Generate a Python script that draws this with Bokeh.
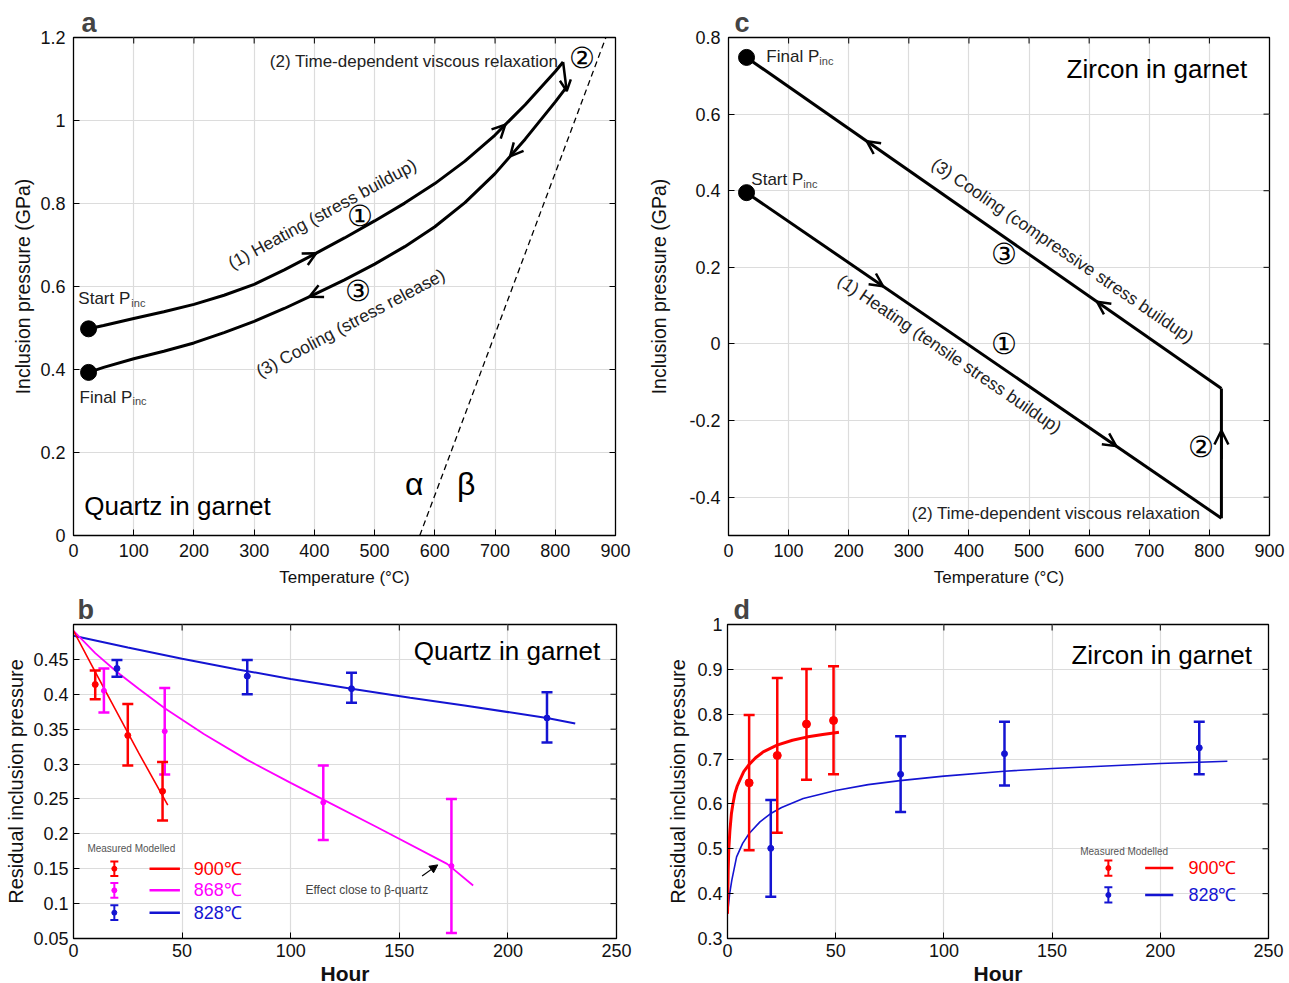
import numpy as np
from bokeh.plotting import figure
from bokeh.layouts import column, row
from bokeh.models import (ColumnDataSource, Whisker, TeeHead, Arrow, OpenHead, NormalHead,
                          Label, FixedTicker, CustomJSTickFormatter, Range1d)
from bokeh.embed import file_html
from bokeh.resources import INLINE

FONT = "Liberation Sans"
RED = "#ff0000"
MAG = "#ff00ff"
BLUE = "#1414d2"

# ---------------- Panel a: quartz in garnet, P-T path ----------------
qa_heat_T = [25, 50, 100, 150, 200, 250, 300, 350, 400, 450, 500, 550, 600, 650, 700, 750, 800, 813]
qa_heat_P = [0.498, 0.506, 0.523, 0.539, 0.557, 0.579, 0.605, 0.640, 0.678, 0.717, 0.758,
             0.801, 0.848, 0.902, 0.965, 1.038, 1.118, 1.141]
qa_cool_T = [819, 800, 750, 700, 650, 600, 550, 500, 450, 400, 350, 300, 250, 200, 150, 100, 50, 25]
qa_cool_P = [1.081, 1.045, 0.955, 0.872, 0.802, 0.744, 0.696, 0.654, 0.616, 0.581, 0.547,
             0.516, 0.489, 0.464, 0.444, 0.426, 0.405, 0.393]
qa_ab_T = [575, 884]          # alpha/beta quartz boundary
qa_ab_P = [0.0, 1.2]

# ---------------- Panel c: zircon in garnet, P-T path ----------------
zc_heat_T = [30, 820]
zc_heat_P = [0.395, -0.455]
zc_relax_T = [820, 820]
zc_relax_P = [-0.455, -0.116]
zc_cool_T = [820, 30]
zc_cool_P = [-0.116, 0.748]

# ---------------- Panel b: quartz, residual pressure vs hour ----------------
qb_h900 = [10, 25, 41]
qb_p900 = [0.414, 0.341, 0.261]
qb_hi900 = [0.434, 0.386, 0.303]
qb_lo900 = [0.393, 0.298, 0.219]
qb_h868 = [14, 42, 115, 174]
qb_p868 = [0.405, 0.347, 0.245, 0.154]
qb_hi868 = [0.437, 0.409, 0.298, 0.250]
qb_lo868 = [0.374, 0.285, 0.191, 0.058]
qb_h828 = [20, 80, 128, 218]
qb_p828 = [0.437, 0.426, 0.408, 0.366]
qb_hi828 = [0.449, 0.449, 0.431, 0.403]
qb_lo828 = [0.425, 0.400, 0.388, 0.331]
qb_m900_h = [0, 10, 20, 30, 43.4]
qb_m900_p = [0.491, 0.432, 0.374, 0.316, 0.241]
qb_m868_h = [0, 10, 20, 30, 42, 60, 80, 100, 115, 140, 172, 184]
qb_m868_p = [0.491, 0.459, 0.432, 0.408, 0.380, 0.343, 0.306, 0.273, 0.249, 0.209, 0.157, 0.126]
qb_m828_h = [0, 25, 50, 75, 100, 128, 155, 180, 218, 231]
qb_m828_p = [0.484, 0.467, 0.451, 0.436, 0.422, 0.408, 0.395, 0.384, 0.366, 0.358]

# ---------------- Panel d: zircon, residual pressure vs hour ----------------
zd_h900 = [10, 23, 36.5, 49]
zd_p900 = [0.647, 0.708, 0.778, 0.786]
zd_hi900 = [0.798, 0.881, 0.901, 0.907]
zd_lo900 = [0.497, 0.536, 0.654, 0.666]
zd_h828 = [20, 80, 128, 218]
zd_p828 = [0.501, 0.666, 0.712, 0.725]
zd_hi828 = [0.609, 0.751, 0.783, 0.783]
zd_lo828 = [0.393, 0.582, 0.641, 0.666]
zd_m900_h = [0, 0.3, 0.6, 1.1, 1.8, 2.5, 3.4, 4.5, 5.7, 7.5, 10, 13, 16.5, 22.9, 30, 36.5, 44, 51.5]
zd_m900_p = [0.355, 0.450, 0.500, 0.540, 0.578, 0.600, 0.623, 0.640, 0.653, 0.672, 0.688,
             0.703, 0.716, 0.731, 0.742, 0.749, 0.755, 0.760]
zd_m828_h = [0, 1, 2, 4.2, 7, 10, 15, 19.8, 25, 35, 50, 65, 79.7, 100, 128, 150, 200, 231]
zd_m828_p = [0.355, 0.400, 0.430, 0.482, 0.512, 0.534, 0.560, 0.578, 0.592, 0.612, 0.630,
             0.643, 0.652, 0.662, 0.673, 0.679, 0.690, 0.695]

# tick values
T_ticks = list(range(0, 901, 100))
qa_P_ticks = [0, 0.2, 0.4, 0.6, 0.8, 1.0, 1.2]
zc_P_ticks = [-0.4, -0.2, 0, 0.2, 0.4, 0.6, 0.8]
hour_ticks = [0, 50, 100, 150, 200, 250]
qb_ticks = [0.05, 0.1, 0.15, 0.2, 0.25, 0.3, 0.35, 0.4, 0.45]
zd_ticks = [0.3, 0.4, 0.5, 0.6, 0.7, 0.8, 0.9, 1.0]

FMT_CODE = r"return tick.toFixed(2).replace(/0+$/,'').replace(/\.$/,'')"


def make_panel(letter, xr, yr, xticks, yticks, fw, fh, bl, br, bt, bb, xlabel, ylabel,
               xl_size, yl_size, xl_style="normal", yl_standoff=6, title_offset=6,
               tick_standoff=5, xl_standoff=2):
    p = figure(x_range=Range1d(*xr), y_range=Range1d(*yr), frame_width=fw, frame_height=fh,
               min_border_left=bl, min_border_right=br, min_border_top=bt, min_border_bottom=bb,
               output_backend="svg", toolbar_location=None, title=letter)
    p.title.text_font = FONT
    p.title.text_font_size = "27px"
    p.title.text_font_style = "bold"
    p.title.offset = title_offset
    p.title.standoff = 0
    p.outline_line_color = "black"
    p.outline_line_width = 1.3
    p.outline_line_alpha = 1.0
    fmt = CustomJSTickFormatter(code=FMT_CODE)
    for ax, ticks, lab, ls, st, so in [(p.xaxis[0], xticks, xlabel, xl_size, xl_style, xl_standoff),
                                       (p.yaxis[0], yticks, ylabel, yl_size, "normal", yl_standoff)]:
        ax.ticker = FixedTicker(ticks=ticks)
        ax.formatter = fmt
        ax.axis_label = lab
        ax.axis_label_text_font = FONT
        ax.axis_label_text_font_size = f"{ls}px"
        ax.axis_label_text_font_style = st
        ax.axis_label_text_color = "#111111"
        ax.axis_label_standoff = so
        ax.major_label_text_font = FONT
        ax.major_label_text_font_size = "18px"
        ax.major_label_text_color = "#111111"
        ax.major_label_standoff = tick_standoff
        ax.major_tick_in = 6
        ax.major_tick_out = 0
        ax.major_tick_line_color = "black"
        ax.minor_tick_line_color = None
        ax.axis_line_color = "black"
    # inward ticks on the top and right edges (half of a dash marker, clipped by the frame)
    p.scatter(xticks, [yr[1]] * len(xticks), marker="dash", size=12, angle=np.pi / 2,
              line_color="black", line_width=1)
    p.scatter([xr[1]] * len(yticks), yticks, marker="dash", size=12, angle=0,
              line_color="black", line_width=1)
    p.xgrid.ticker = FixedTicker(ticks=xticks)
    p.ygrid.ticker = FixedTicker(ticks=yticks)
    p.grid.grid_line_color = "#dcdcdc"
    p.grid.grid_line_width = 1.2
    return p


def txt(p, x, y, s, size, color="black", align="left", angle=0, baseline="middle", style="normal"):
    p.add_layout(Label(x=x, y=y, text=s, text_font=FONT, text_font_size=f"{size}px",
                       text_color=color, text_align=align, text_baseline=baseline,
                       angle=np.deg2rad(angle), text_font_style=style))


def psub(p, x, y, main, size, width):
    txt(p, x, y, main, size, color="#222222")
    p.add_layout(Label(x=x, y=y, text="inc", text_font=FONT, text_font_size="11px",
                       text_color="#444444", text_align="left", text_baseline="middle",
                       x_offset=width, y_offset=-4))


def arrow_on(p, xs, ys, at, forward=True, size=13, lw=2.5):
    xs = np.asarray(xs, float)
    ys = np.asarray(ys, float)
    order = np.argsort(xs)
    xo, yo = xs[order], ys[order]
    d = -4 if forward else 4
    x0, x1 = at + d, at
    p.add_layout(Arrow(end=OpenHead(size=size, line_width=lw, line_color="black"),
                       x_start=x0, y_start=float(np.interp(x0, xo, yo)),
                       x_end=x1, y_end=float(np.interp(x1, xo, yo)),
                       line_width=lw, line_color="black"))


# ====================== Panel a ======================
pa = make_panel("a", (0, 900), (0, 1.2), T_ticks, qa_P_ticks, 542, 498, 73, 30, 37, 57,
                "Temperature (°C)", "Inclusion pressure (GPa)", 17, 19.5, "normal", 3, 8,
                tick_standoff=8, xl_standoff=8)
pa.line(qa_ab_T, qa_ab_P, line_color="black", line_width=1.3, line_dash="6 4")
pa.line(qa_heat_T, qa_heat_P, line_color="black", line_width=3)
pa.line(qa_cool_T, qa_cool_P, line_color="black", line_width=3)
pa.scatter([qa_heat_T[0], qa_cool_T[-1]], [qa_heat_P[0], qa_cool_P[-1]], size=16,
           color="black")
arrow_on(pa, qa_heat_T, qa_heat_P, 403, True)
arrow_on(pa, qa_heat_T, qa_heat_P, 717, True)
arrow_on(pa, qa_cool_T, qa_cool_P, 392, False)
arrow_on(pa, qa_cool_T, qa_cool_P, 725, False)
pa.add_layout(Arrow(end=OpenHead(size=11, line_width=2.5, line_color="black"),
                    x_start=qa_heat_T[-1], y_start=qa_heat_P[-1],
                    x_end=qa_cool_T[0], y_end=qa_cool_P[0] - 0.01,
                    line_width=2.5, line_color="black"))
psub(pa, 8, 0.571, "Start P", 17, 53)
psub(pa, 10, 0.333, "Final P", 17, 53)
txt(pa, 18, 0.072, "Quartz in garnet", 26)
txt(pa, 566, 0.125, "α", 32, align="center")
txt(pa, 652, 0.125, "β", 32, align="center")
txt(pa, 805, 1.142, "(2) Time-dependent viscous relaxation", 17, color="#222222", align="right")
txt(pa, 845, 1.150, "②", 29, align="center")
txt(pa, 413, 0.775, "(1) Heating (stress buildup)", 17.5, color="#222222", align="center", angle=28.5)
txt(pa, 476, 0.770, "①", 29, align="center")
txt(pa, 460, 0.512, "(3) Cooling (stress release)", 17.5, color="#222222", align="center", angle=28)
txt(pa, 472, 0.588, "③", 29, align="center")

# ====================== Panel c ======================
pc = make_panel("c", (0, 900), (-0.5, 0.8), T_ticks, zc_P_ticks, 541, 498, 82, 21, 37, 57,
                "Temperature (°C)", "Inclusion pressure (GPa)", 17, 19.5, "normal", 16, 6,
                tick_standoff=8, xl_standoff=8)
pc.line(zc_heat_T, zc_heat_P, line_color="black", line_width=3)
pc.line(zc_relax_T, zc_relax_P, line_color="black", line_width=3)
pc.line(zc_cool_T, zc_cool_P, line_color="black", line_width=3)
pc.scatter([zc_heat_T[0], zc_cool_T[-1]], [zc_heat_P[0], zc_cool_P[-1]], size=16, color="black")
arrow_on(pc, zc_heat_T, zc_heat_P, 257, True)
arrow_on(pc, zc_heat_T, zc_heat_P, 645, True)
arrow_on(pc, zc_cool_T, zc_cool_P, 230, False)
arrow_on(pc, zc_cool_T, zc_cool_P, 613, False)
pc.add_layout(Arrow(end=OpenHead(size=14, line_width=2.5, line_color="black"),
                    x_start=zc_relax_T[0], y_start=-0.30, x_end=zc_relax_T[1], y_end=-0.226,
                    line_width=2.5, line_color="black"))
psub(pc, 63, 0.750, "Final P", 17, 53)
psub(pc, 38, 0.429, "Start P", 17, 52)
txt(pc, 863, 0.717, "Zircon in garnet", 26, align="right")
txt(pc, 556, 0.244, "(3) Cooling (compressive stress buildup)", 17.5, color="#222222",
    align="center", angle=-34.4)
txt(pc, 459, 0.235, "③", 29, align="center")
txt(pc, 368, -0.026, "(1) Heating (tensile stress buildup)", 17.5, color="#222222",
    align="center", angle=-34.4)
txt(pc, 459, 0.0, "①", 29, align="center")
txt(pc, 786, -0.27, "②", 29, align="center")
txt(pc, 785, -0.443, "(2) Time-dependent viscous relaxation", 17, color="#222222", align="right")


# ====================== helpers for b/d ======================
def errpts(p, h, pm, hi, lo, color, size, lw=2.5, cap=11):
    src = ColumnDataSource(dict(x=h, y=pm, hi=hi, lo=lo))
    p.add_layout(Whisker(base="x", upper="hi", lower="lo", source=src, line_color=color,
                         line_width=lw,
                         upper_head=TeeHead(size=cap, line_color=color, line_width=lw),
                         lower_head=TeeHead(size=cap, line_color=color, line_width=lw),
                         level="glyph"))
    p.scatter("x", "y", source=src, size=size, color=color)


# ====================== Panel b ======================
pb = make_panel("b", (0, 250), (0.05, 0.5), hour_ticks, qb_ticks, 543, 314, 73, 29, 31, 46,
                "Hour", "Residual inclusion pressure", 21, 20, "bold", 3, 4)
pb.line(qb_m828_h, qb_m828_p, line_color=BLUE, line_width=2)
pb.line(qb_m868_h, qb_m868_p, line_color=MAG, line_width=1.8)
pb.line(qb_m900_h, qb_m900_p, line_color=RED, line_width=1.6)
errpts(pb, qb_h828, qb_p828, qb_hi828, qb_lo828, BLUE, 6)
errpts(pb, qb_h868, qb_p868, qb_hi868, qb_lo868, MAG, 5)
errpts(pb, qb_h900, qb_p900, qb_hi900, qb_lo900, RED, 6)
txt(pb, 242.5, 0.462, "Quartz in garnet", 26, align="right")
txt(pb, 106.8, 0.119, "Effect close to β-quartz", 12, color="#444444")
pb.add_layout(Arrow(end=NormalHead(size=8, fill_color="black", line_color="black"),
                    x_start=160.5, y_start=0.1395, x_end=167.7, y_end=0.1555,
                    line_width=1.2, line_color="black"))
# legend b
leg_b_labels = ["900℃", "868℃", "828℃"]
leg_b_colors = [RED, MAG, BLUE]
leg_b_y = [0.150, 0.119, 0.087]
txt(pb, 6.4, 0.179, "Measured  Modelled", 10, color="#555555")
for lab, col, yy in zip(leg_b_labels, leg_b_colors, leg_b_y):
    errpts(pb, [18.8], [yy], [yy + 0.0105], [yy - 0.0105], col, 5, lw=2, cap=8)
    pb.line([35, 49], [yy, yy], line_color=col, line_width=2.5)
    txt(pb, 55.4, yy, lab, 18, color=col)

# ====================== Panel d ======================
pd_ = make_panel("d", (0, 250), (0.3, 1.0), hour_ticks, zd_ticks, 541, 314, 82, 21, 31, 46,
                 "Hour", "Residual inclusion pressure", 21, 20, "bold", 5, 6)
pd_.line(zd_m828_h, zd_m828_p, line_color=BLUE, line_width=1.6)
pd_.line(zd_m900_h, zd_m900_p, line_color=RED, line_width=3)
errpts(pd_, zd_h828, zd_p828, zd_hi828, zd_lo828, BLUE, 6)
errpts(pd_, zd_h900, zd_p900, zd_hi900, zd_lo900, RED, 8)
txt(pd_, 242.4, 0.931, "Zircon in garnet", 26, align="right")
leg_d_labels = ["900℃", "828℃"]
leg_d_colors = [RED, BLUE]
leg_d_y = [0.457, 0.397]
txt(pd_, 163, 0.493, "Measured  Modelled", 10, color="#555555")
for lab, col, yy in zip(leg_d_labels, leg_d_colors, leg_d_y):
    errpts(pd_, [176], [yy], [yy + 0.017], [yy - 0.017], col, 5, lw=2, cap=8)
    pd_.line([193, 206], [yy, yy], line_color=col, line_width=2.5)
    txt(pd_, 213, yy, lab, 18, color=col)

layout = column(row(pa, pc), row(pb, pd_))
open("out.html", "w").write(file_html(layout, INLINE))
